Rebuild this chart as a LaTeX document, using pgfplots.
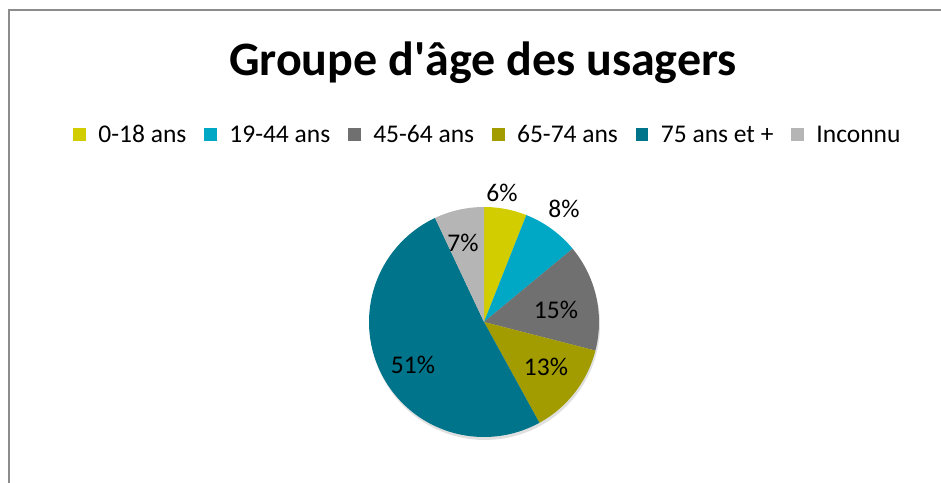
\documentclass[border=0pt]{standalone}
\usepackage{pgfplots}
\pgfplotsset{compat=1.18}
\usepackage{fontspec}
\setmainfont{Carlito}[Ligatures=TeXOff]
\definecolor{cA}{RGB}{210,205,0}
\definecolor{cB}{RGB}{0,168,198}
\definecolor{cC}{RGB}{112,112,112}
\definecolor{cD}{RGB}{163,156,0}
\definecolor{cE}{RGB}{0,116,138}
\definecolor{cF}{RGB}{181,181,181}
\definecolor{frame}{RGB}{140,140,140}
% values (%): 0-18 ans 6, 19-44 ans 8, 45-64 ans 15, 65-74 ans 13, 75 ans et + 51, Inconnu 7
% slices run clockwise from 90 degrees; 3.6 degrees per percent
\newcommand{\cx}{484}
\newcommand{\cy}{161}
\newcommand{\R}{115}
\begin{document}
\begin{tikzpicture}
\begin{axis}[
  name=main,
  width=941bp, height=483bp, scale only axis,
  xmin=0, xmax=941, ymin=0, ymax=483,
  hide axis, clip=false,
  legend columns=-1,
  legend style={at={(axis cs:487,348)}, anchor=center, draw=none, fill=none,
    font=\fontsize{25.5bp}{30bp}\selectfont,
    nodes={inner sep=0pt},
    /tikz/every odd column/.append style={column sep=12.5bp},
    /tikz/every even column/.append style={column sep=18bp}},
  legend image code/.code={\fill[#1] (0bp,-6.5bp) rectangle (12.5bp,6.5bp);},
]
% frame
\draw[frame, line width=2bp] (axis cs:9,0) -- (axis cs:9,472.5) -- (axis cs:941,472.5);
% soft shadow
\addplot[fill=black, fill opacity=0.12, draw=none, domain=0:360, samples=120, forget plot]
  ({\cx+1+\R*cos(x)},{\cy-3+\R*sin(x)}) -- cycle;
\addplot[fill=cA, draw=none, domain={90-3.6*6}:{90}, samples=30]
  ({\cx+\R*cos(x)},{\cy+\R*sin(x)}) -- (axis cs:\cx,\cy) -- cycle;
\addlegendentry{0-18 ans}
\addplot[fill=cB, draw=none, domain={90-3.6*(6+8)}:{90-3.6*6}, samples=30]
  ({\cx+\R*cos(x)},{\cy+\R*sin(x)}) -- (axis cs:\cx,\cy) -- cycle;
\addlegendentry{19-44 ans}
\addplot[fill=cC, draw=none, domain={90-3.6*(6+8+15)}:{90-3.6*(6+8)}, samples=40]
  ({\cx+\R*cos(x)},{\cy+\R*sin(x)}) -- (axis cs:\cx,\cy) -- cycle;
\addlegendentry{45-64 ans}
\addplot[fill=cD, draw=none, domain={90-3.6*(6+8+15+13)}:{90-3.6*(6+8+15)}, samples=40]
  ({\cx+\R*cos(x)},{\cy+\R*sin(x)}) -- (axis cs:\cx,\cy) -- cycle;
\addlegendentry{65-74 ans}
\addplot[fill=cE, draw=none, domain={90-3.6*(6+8+15+13+51)}:{90-3.6*(6+8+15+13)}, samples=120]
  ({\cx+\R*cos(x)},{\cy+\R*sin(x)}) -- (axis cs:\cx,\cy) -- cycle;
\addlegendentry{75 ans et +}
\addplot[fill=cF, draw=none, domain={90-3.6*100}:{90-3.6*(6+8+15+13+51)}, samples=30]
  ({\cx+\R*cos(x)},{\cy+\R*sin(x)}) -- (axis cs:\cx,\cy) -- cycle;
\addlegendentry{Inconnu}
% title
\node[font=\fontsize{48bp}{52bp}\selectfont\bfseries, anchor=base] at (axis cs:483,407) {Groupe d'âge des usagers};
% slice labels
\begin{scope}[every node/.style={font=\fontsize{25.5bp}{30bp}\selectfont, inner sep=0pt}]
\node at (axis cs:502,290) {6\%};
\node at (axis cs:564,274) {8\%};
\node at (axis cs:556,173) {15\%};
\node at (axis cs:546,116) {13\%};
\node at (axis cs:413,118) {51\%};
\node at (axis cs:463,240) {7\%};
\end{scope}
\end{axis}
\pgfresetboundingbox
\path (main.south west) rectangle (main.north east);
\end{tikzpicture}
\end{document}
